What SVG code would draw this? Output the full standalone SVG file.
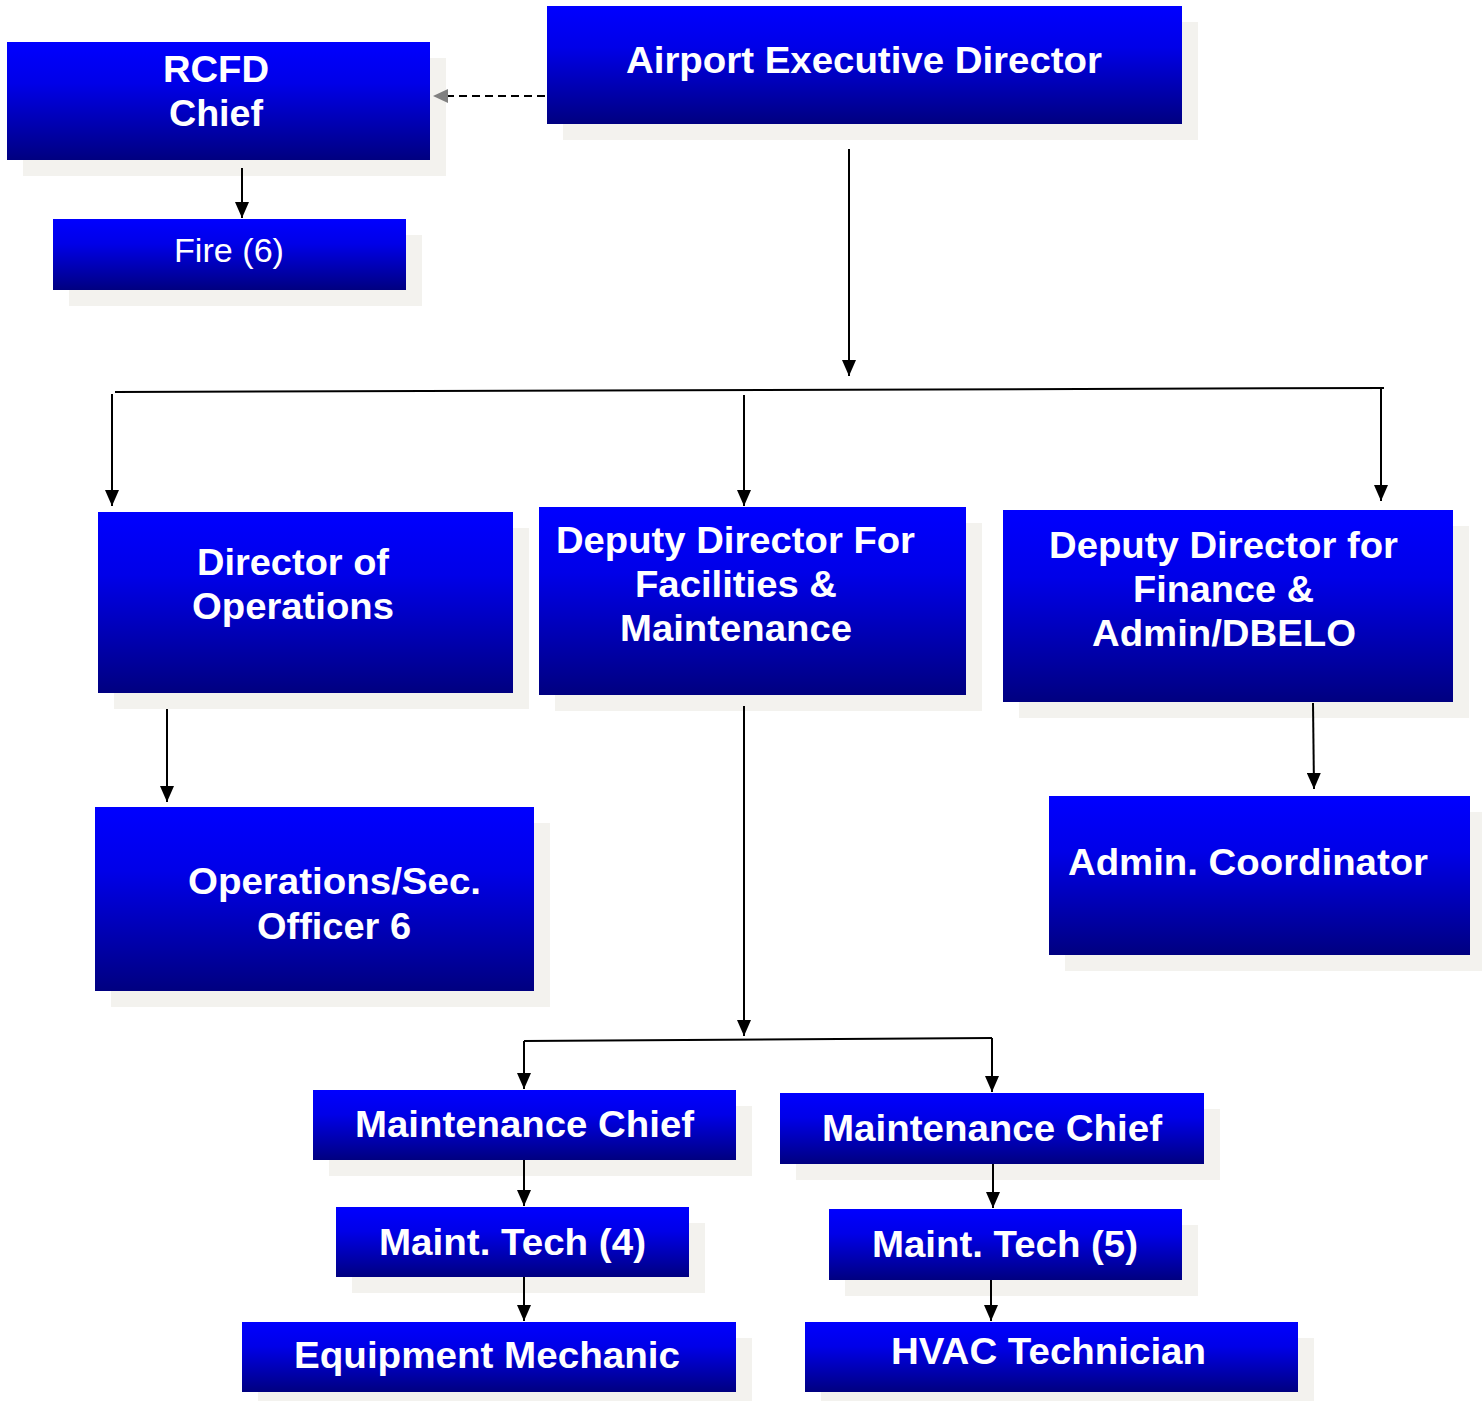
<svg xmlns="http://www.w3.org/2000/svg" width="1482" height="1401" viewBox="0 0 1482 1401">
<defs>
<linearGradient id="g" x1="0" y1="0" x2="0" y2="1">
<stop offset="0" stop-color="#0000FF"/>
<stop offset="0.35" stop-color="#0000E8"/>
<stop offset="1" stop-color="#000080"/>
</linearGradient>
<marker id="ah" viewBox="0 0 16 14" refX="16" refY="7" markerWidth="16" markerHeight="14" markerUnits="userSpaceOnUse" orient="auto">
<path d="M0,0 L16,7 L0,14 Z" fill="#000"/>
</marker>
</defs>
<style>
.sh{fill:#F3F2EE}
.bx{fill:url(#g)}
.t{font-family:"Liberation Sans",Arial,sans-serif;font-weight:bold;font-size:36px;fill:#fff}
.tn{font-family:"Liberation Sans",Arial,sans-serif;font-weight:normal;font-size:34px;fill:#fff}
.c{stroke:#000;stroke-width:2;fill:none}
.cv{stroke:#000;stroke-width:2;fill:none;marker-end:url(#ah)}
</style>
<rect width="1482" height="1401" fill="#fff"/>

<g id="rcfd">
<rect class="sh" x="23" y="58" width="423" height="118"/>
<rect class="bx" x="7" y="42" width="423" height="118"/>
<text class="t" x="163" y="82" textLength="106" lengthAdjust="spacingAndGlyphs">RCFD</text>
<text class="t" x="169" y="126" textLength="94" lengthAdjust="spacingAndGlyphs">Chief</text>
</g>
<g id="fire">
<rect class="sh" x="69" y="235" width="353" height="71"/>
<rect class="bx" x="53" y="219" width="353" height="71"/>
<text class="tn" x="174" y="262" textLength="110" lengthAdjust="spacingAndGlyphs">Fire (6)</text>
</g>
<g id="aed">
<rect class="sh" x="563" y="22" width="635" height="118"/>
<rect class="bx" x="547" y="6" width="635" height="118"/>
<text class="t" x="626" y="73" textLength="476" lengthAdjust="spacingAndGlyphs">Airport Executive Director</text>
</g>
<g id="dirops">
<rect class="sh" x="114" y="528" width="415" height="181"/>
<rect class="bx" x="98" y="512" width="415" height="181"/>
<text class="t" x="197" y="575" textLength="192" lengthAdjust="spacingAndGlyphs">Director of</text>
<text class="t" x="192" y="619" textLength="202" lengthAdjust="spacingAndGlyphs">Operations</text>
</g>
<g id="ddfm">
<rect class="sh" x="555" y="523" width="427" height="188"/>
<rect class="bx" x="539" y="507" width="427" height="188"/>
<text class="t" x="556" y="553" textLength="359" lengthAdjust="spacingAndGlyphs">Deputy Director For</text>
<text class="t" x="635" y="597" textLength="202" lengthAdjust="spacingAndGlyphs">Facilities &amp;</text>
<text class="t" x="620" y="641" textLength="232" lengthAdjust="spacingAndGlyphs">Maintenance</text>
</g>
<g id="ddfa">
<rect class="sh" x="1019" y="526" width="450" height="192"/>
<rect class="bx" x="1003" y="510" width="450" height="192"/>
<text class="t" x="1049" y="558" textLength="349" lengthAdjust="spacingAndGlyphs">Deputy Director for</text>
<text class="t" x="1133" y="602" textLength="181" lengthAdjust="spacingAndGlyphs">Finance &amp;</text>
<text class="t" x="1092" y="646" textLength="264" lengthAdjust="spacingAndGlyphs">Admin/DBELO</text>
</g>
<g id="opssec">
<rect class="sh" x="111" y="823" width="439" height="184"/>
<rect class="bx" x="95" y="807" width="439" height="184"/>
<text class="t" x="188" y="894" textLength="293" lengthAdjust="spacingAndGlyphs">Operations/Sec.</text>
<text class="t" x="257" y="939" textLength="154" lengthAdjust="spacingAndGlyphs">Officer 6</text>
</g>
<g id="admincoord">
<rect class="sh" x="1065" y="812" width="417" height="159"/>
<rect class="bx" x="1049" y="796" width="421" height="159"/>
<text class="t" x="1068" y="875" textLength="360" lengthAdjust="spacingAndGlyphs">Admin. Coordinator</text>
</g>
<g id="mchief1">
<rect class="sh" x="329" y="1106" width="423" height="70"/>
<rect class="bx" x="313" y="1090" width="423" height="70"/>
<text class="t" x="355" y="1137" textLength="339" lengthAdjust="spacingAndGlyphs">Maintenance Chief</text>
</g>
<g id="mchief2">
<rect class="sh" x="796" y="1109" width="424" height="71"/>
<rect class="bx" x="780" y="1093" width="424" height="71"/>
<text class="t" x="822" y="1141" textLength="340" lengthAdjust="spacingAndGlyphs">Maintenance Chief</text>
</g>
<g id="tech4">
<rect class="sh" x="352" y="1223" width="353" height="70"/>
<rect class="bx" x="336" y="1207" width="353" height="70"/>
<text class="t" x="379" y="1255" textLength="267" lengthAdjust="spacingAndGlyphs">Maint. Tech (4)</text>
</g>
<g id="tech5">
<rect class="sh" x="845" y="1225" width="353" height="71"/>
<rect class="bx" x="829" y="1209" width="353" height="71"/>
<text class="t" x="872" y="1257" textLength="266" lengthAdjust="spacingAndGlyphs">Maint. Tech (5)</text>
</g>
<g id="equip">
<rect class="sh" x="258" y="1338" width="494" height="63"/>
<rect class="bx" x="242" y="1322" width="494" height="70"/>
<text class="t" x="294" y="1368" textLength="386" lengthAdjust="spacingAndGlyphs">Equipment Mechanic</text>
</g>
<g id="hvac">
<rect class="sh" x="821" y="1338" width="493" height="63"/>
<rect class="bx" x="805" y="1322" width="493" height="70"/>
<text class="t" x="891" y="1364" textLength="315" lengthAdjust="spacingAndGlyphs">HVAC Technician</text>
</g>

<g id="connectors">
<line x1="545" y1="96" x2="448" y2="96" stroke="#000" stroke-width="2" stroke-dasharray="8,5"/>
<path d="M433,96 L448,89 L448,103 Z" fill="#808080"/>
<line class="cv" x1="242" y1="168" x2="242" y2="218"/>
<line class="cv" x1="849" y1="149" x2="849" y2="376"/>
<line class="c" x1="115" y1="392" x2="1384" y2="388"/>
<line class="cv" x1="112" y1="394" x2="112" y2="506"/>
<line class="cv" x1="744" y1="395" x2="744" y2="506"/>
<line class="cv" x1="1381" y1="388" x2="1381" y2="501"/>
<line class="cv" x1="167" y1="709" x2="167" y2="802"/>
<line class="cv" x1="1313" y1="703" x2="1314" y2="789"/>
<line class="cv" x1="744" y1="706" x2="744" y2="1036"/>
<line class="c" x1="524" y1="1041" x2="992" y2="1038"/>
<line class="cv" x1="524" y1="1041" x2="524" y2="1089"/>
<line class="cv" x1="992" y1="1038" x2="992" y2="1092"/>
<line class="cv" x1="524" y1="1160" x2="524" y2="1206"/>
<line class="cv" x1="993" y1="1164" x2="993" y2="1208"/>
<line class="cv" x1="524" y1="1277" x2="524" y2="1321"/>
<line class="cv" x1="991" y1="1280" x2="991" y2="1321"/>
</g>
</svg>
